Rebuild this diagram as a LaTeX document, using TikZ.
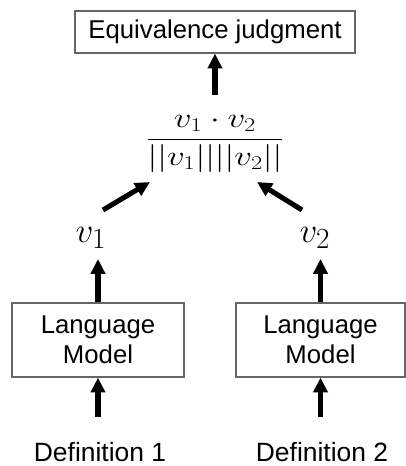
\documentclass[tikz,border=0pt]{standalone}
\usepackage{fontspec}
\setmainfont{Liberation Sans}
\usepackage{tikz}
\usetikzlibrary{arrows.meta}

\begin{document}
\begin{tikzpicture}[
        x=0.025cm, y=-0.025cm,
        box/.style={rectangle, draw=black!60, line width=0.9pt, inner sep=0pt, align=center, font=\fontsize{18.3}{21.5}\selectfont},
        deflabel/.style={inner sep=0pt, font=\fontsize{18.8}{22}\selectfont},
        vec/.style={inner sep=0pt, font=\fontsize{30}{34}\selectfont},
        arr/.style={line width=3.6pt, -{Triangle[length=10.5pt, width=10pt]}}
    ]
    \useasboundingbox (0,0) rectangle (406,466);

    % Output box and similarity
    \node[box, minimum width=7cm, minimum height=1.05cm] (judge) at (215, 32) {Equivalence judgment};
    \node[inner sep=0pt, font=\fontsize{23}{27}\selectfont] (sim) at (215, 144)
        {\scalebox{1}[0.8]{$\displaystyle\frac{v_1\cdot v_2}{||v_1||||v_2||}$}};

    % --------------------------------------------------
    % two encoders
    \node[box, minimum width=4.3cm, minimum height=1.85cm]   (lm1) at (98, 340)    {Language\\Model};
    \node[box, minimum width=4.225cm, minimum height=1.85cm] (lm2) at (320.5, 340) {Language\\Model};

    \node[vec] (v1) at (91, 238)  {$v_1$};
    \node[vec] (v2) at (315, 238) {$v_2$};

    \node[deflabel] (def1) at (100, 452) {Definition 1};
    \node[deflabel] (def2) at (322, 452) {Definition 2};

    % --------------------------------------------------
    % arrows
    \foreach \lm/\v/\d in {lm1/v1/def1, lm2/v2/def2} {
        \draw[arr, shorten <=18pt] (\lm.south |- \d.north) -- (\lm.south);
        \draw[arr, shorten >=7pt] (\lm.north) -- (\lm.north |- \v.south);
    }

    \coordinate (t1) at (103, 210);
    \coordinate (h1) at (150, 182);
    \coordinate (t2) at (302, 210);
    \coordinate (h2) at (257, 182);
    \draw[arr] (t1) -- (h1);
    \draw[arr] (t2) -- (h2);

    \draw[arr, shorten <=14pt] (sim.north -| judge.south) -- (judge.south);

\end{tikzpicture}
\end{document}
